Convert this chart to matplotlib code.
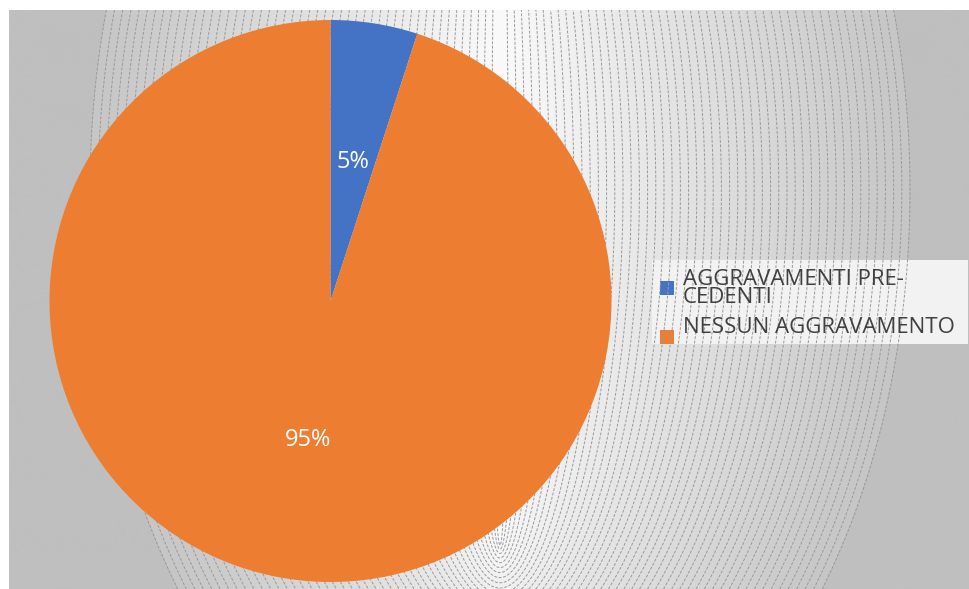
import matplotlib
matplotlib.use("Agg")
import matplotlib.pyplot as plt
from matplotlib.patches import Rectangle
import numpy as np

plt.rcParams['font.family'] = ['Open Sans', 'DejaVu Sans']

labels = ["AGGRAVAMENTI PRE-\nCEDENTI", "NESSUN AGGRAVAMENTO"]
values = [5, 95]
colors = ["#4472C4", "#ED7D31"]

W, H = 970, 589
fig = plt.figure(figsize=(W / 100, H / 100), dpi=100)
fig.patch.set_facecolor("white")

# background panel, in pixel coordinates
bg = fig.add_axes([9 / W, 0, (W - 9) / W, (H - 10) / H])
bg.axis("off")

# gradient: family of tall ellipses, width grows with t, bottom sinks with t
xs = np.arange(9, W + 1, 1.0)
ys = np.arange(10, H + 1, 1.0)
X, Y = np.meshgrid(xs, ys)
cx, cy, ea = 500.0, 190.0, 410.0
dx = X - cx
dy = Y - cy

def semi_y(t):
    return 352.0 + 293.0 * t ** 1.15

lo = np.full(X.shape, 1e-4)
hi = np.full(X.shape, 1.5)
for _ in range(40):
    mid = (lo + hi) / 2
    f = (dx / (mid * ea)) ** 2 + (dy / semi_y(mid)) ** 2 - 1
    outside = f > 0
    lo = np.where(outside, mid, lo)
    hi = np.where(outside, hi, mid)
T = (lo + hi) / 2

shade = np.where(T <= 1, 250 - 52 * np.clip(T, 0, 1), 191) / 255.0
img = np.dstack([shade, shade, shade])
bg.imshow(img, extent=(9, W, H, 10), origin="upper", interpolation="bilinear", aspect="auto")
bg.contour(X, Y, T, levels=np.arange(1, 51) / 50.0, colors="#9a9a9a",
           linewidths=0.7, linestyles=[(0, (3, 1.6))])
bg.set_xlim(9, W)
bg.set_ylim(H, 10)

# legend box drawn by hand
bg.add_patch(Rectangle((652, 260), 316, 84, facecolor="#f2f2f2", edgecolor="none"))
bg.add_patch(Rectangle((660, 281), 14, 14, facecolor=colors[0], edgecolor="none"))
bg.add_patch(Rectangle((660, 330), 14, 14, facecolor=colors[1], edgecolor="none"))
bg.text(683, 303, labels[0], fontsize=16, color="#404040", va="baseline", ha="left",
        linespacing=0.8)
bg.text(683, 333, labels[1], fontsize=16, color="#404040", va="baseline", ha="left")

# pie
r = 281
pcx, pcy = 330.5, 301
ax = fig.add_axes([(pcx - r) / W, (H - pcy - r) / H, 2 * r / W, 2 * r / H])
ax.patch.set_visible(False)
wedges, texts, autotexts = ax.pie(values, colors=colors, startangle=90, counterclock=False,
                                  autopct="%1.0f%%", pctdistance=0.5,
                                  wedgeprops=dict(linewidth=0),
                                  textprops=dict(color="white", fontsize=17))
ax.set_xlim(-1, 1)
ax.set_ylim(-1, 1)
ax.axis("off")

fig.savefig("out.png", dpi=100)
